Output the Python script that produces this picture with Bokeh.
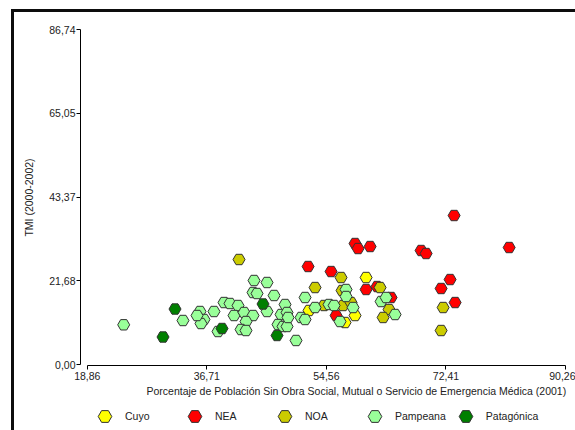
from bokeh.plotting import figure
from bokeh.layouts import column
from bokeh.models import (Range1d, FixedTicker, CustomJSTickFormatter, Legend,
                          LegendItem, Title)
from bokeh.embed import file_html
from bokeh.resources import INLINE

# Regions and their marker colours
regions = ["Cuyo", "NEA", "NOA", "Pampeana", "Patagónica"]
region_colors = ["#FFFF00", "#FF0000", "#CCCC00", "#99FF99", "#008000"]

# % population without health coverage (2001) vs infant mortality rate (2000-2002)
cuyo_x = [60.49, 51.97, 57.35, 58.84]
cuyo_y = [22.58, 14.05, 10.94, 12.75]

nea_x = [51.83, 55.26, 58.84, 59.29, 61.09, 60.49, 62.13, 64.22, 56.01,
         73.63, 68.70, 69.45, 73.03, 71.69, 73.78, 81.85]
nea_y = [25.43, 24.13, 31.38, 30.08, 30.60, 19.48, 20.25, 17.41, 12.75,
         38.62, 29.57, 28.79, 22.06, 19.74, 16.11, 30.34]

noa_x = [41.52, 52.87, 56.75, 62.58, 56.90, 54.21, 57.05, 58.25, 63.92,
         63.03, 71.99, 71.69]
noa_y = [27.24, 19.99, 22.58, 19.99, 19.22, 15.34, 15.34, 16.11, 14.30,
         12.24, 14.82, 8.87]

pampeana_x = [24.30, 33.15, 43.76, 45.70, 43.61, 44.21, 46.75, 39.28, 40.17,
              41.37, 37.78, 35.69, 36.29, 35.84, 40.77, 42.27, 43.61, 42.56,
              45.70, 41.82, 42.56, 38.38, 50.03, 47.79, 48.39, 48.69, 47.34,
              48.09, 48.69, 48.84, 50.78, 51.38, 51.38, 52.87, 54.96, 55.71,
              57.50, 57.50, 58.55, 56.60, 62.73, 63.48, 64.82, 35.25]
pampeana_y = [10.35, 11.46, 21.81, 21.29, 18.70, 18.44, 17.93, 16.11, 15.86,
              15.34, 13.79, 13.79, 11.72, 10.68, 12.75, 13.53, 12.75, 11.20,
              13.79, 9.13, 8.87, 8.61, 6.29, 13.01, 15.60, 13.53, 10.42,
              9.91, 9.91, 12.24, 12.24, 11.72, 17.41, 14.82, 15.60, 15.34,
              19.48, 17.67, 14.82, 11.20, 16.37, 17.41, 13.01, 12.75]

patagonica_x = [31.96, 30.17, 38.98, 45.10, 47.19]
patagonica_y = [14.43, 7.19, 9.39, 15.73, 7.58]

x_ticks = [18.86, 36.71, 54.56, 72.41, 90.26]
y_ticks = [0.00, 21.68, 43.37, 65.05, 86.74]

x_title = ("Porcentaje de Población Sin Obra Social, Mutual o Servicio de "
           "Emergencia Médica (2001)")
y_title = "TMI (2000-2002)"

FONT = "Liberation Sans"
FSIZE = "10.5px"
TEXT = "#222222"

series = [(cuyo_x, cuyo_y), (nea_x, nea_y), (noa_x, noa_y),
          (pampeana_x, pampeana_y), (patagonica_x, patagonica_y)]

# ---- main scatter plot ----
p = figure(width=561, height=388, title=None,
           x_range=Range1d(17.85, 90.26), y_range=Range1d(-0.18, 86.74),
           output_backend="svg", toolbar_location=None,
           min_border_left=66, min_border_right=10,
           min_border_top=17, min_border_bottom=35)
p.outline_line_color = None
p.xgrid.visible = False
p.ygrid.visible = False

fmt = CustomJSTickFormatter(code="return tick.toFixed(2).replace('.', ',');")
for ax in (p.xaxis[0], p.yaxis[0]):
    ax.axis_line_color = "#000000"
    ax.major_tick_line_color = "#000000"
    ax.minor_tick_line_color = None
    ax.major_tick_in = 0
    ax.major_tick_out = 4
    ax.major_label_text_font = FONT
    ax.major_label_text_font_size = FSIZE
    ax.major_label_text_color = TEXT
    ax.formatter = fmt

p.xaxis[0].ticker = FixedTicker(ticks=x_ticks)
p.xaxis[0].bounds = (x_ticks[0], x_ticks[-1])
p.xaxis[0].major_label_standoff = 2
p.yaxis[0].ticker = FixedTicker(ticks=y_ticks)
p.yaxis[0].bounds = (y_ticks[0], y_ticks[-1])
p.yaxis[0].major_label_standoff = 1
p.yaxis[0].axis_label = y_title
p.yaxis[0].axis_label_standoff = 11
p.yaxis[0].axis_label_text_font = FONT
p.yaxis[0].axis_label_text_font_size = FSIZE
p.yaxis[0].axis_label_text_font_style = "normal"
p.yaxis[0].axis_label_text_color = TEXT

# x-axis caption, set as a left-aligned title under the axis
p.add_layout(Title(text=x_title, align="left", offset=66, standoff=0,
                   text_font=FONT, text_font_size=FSIZE,
                   text_font_style="normal", text_color=TEXT), "below")

for color, (xs, ys) in zip(region_colors, series):
    p.scatter(xs, ys, marker="hex", size=12, fill_color=color,
              line_color="#333333", line_width=1)

# ---- legend strip under the plot (its own unit ranges keep the
# series points off-screen; only the legend swatches show) ----
lg = figure(width=561, height=30, x_range=Range1d(0, 1), y_range=Range1d(0, 1),
            output_backend="svg", toolbar_location=None,
            x_axis_type=None, y_axis_type=None,
            min_border=0, min_border_left=0, min_border_right=0,
            min_border_top=0, min_border_bottom=0)
lg.outline_line_color = None
lg.xgrid.visible = False
lg.ygrid.visible = False

items = []
for name, color, (xs, ys) in zip(regions, region_colors, series):
    r = lg.scatter(xs, ys, marker="hex", fill_color=color,
                   line_color="#333333", line_width=1)
    items.append(LegendItem(label=name, renderers=[r]))

legend = Legend(items=items, orientation="horizontal", location=(7, -3),
                glyph_width=35, glyph_height=34, label_standoff=3,
                label_width=50, spacing=2, padding=0, margin=0,
                border_line_color=None, background_fill_alpha=0,
                label_text_font=FONT, label_text_font_size=FSIZE,
                label_text_color=TEXT)
lg.add_layout(legend)

page = column(p, lg, spacing=0)
page.styles = {"margin-left": "11px", "margin-top": "9px",
               "border-left": "3px solid #0d0d0d",
               "border-top": "3px solid #0d0d0d"}

open("out.html", "w").write(file_html(page, INLINE))
